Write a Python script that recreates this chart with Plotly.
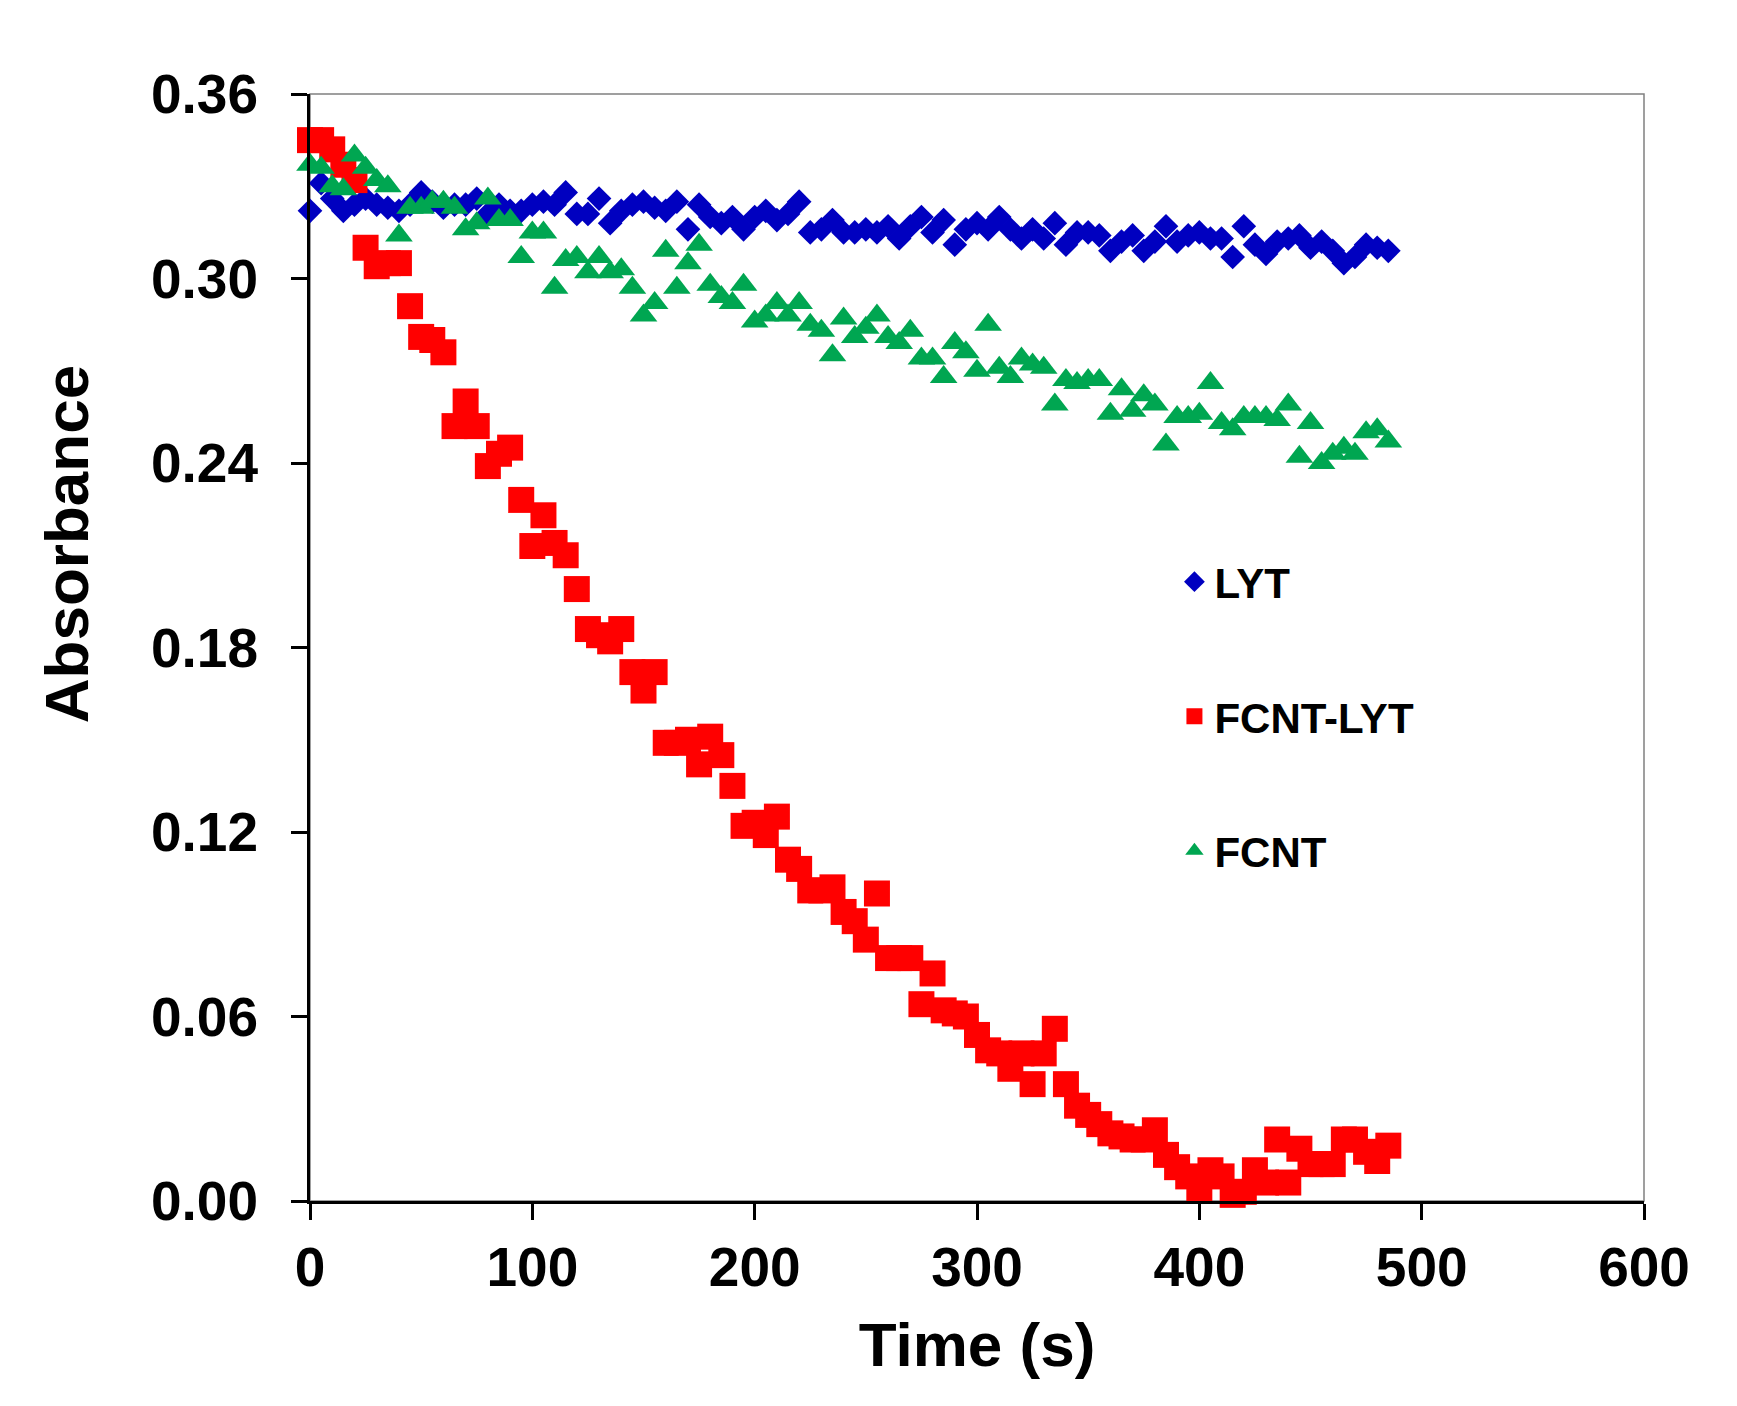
import plotly.graph_objects as go

# time points (s)
time_s = [0, 5, 10, 15, 20, 25, 30, 35, 40, 45, 50, 55, 60, 65, 70, 75, 80, 85, 90, 95,
          100, 105, 110, 115, 120, 125, 130, 135, 140, 145, 150, 155, 160, 165, 170, 175, 180, 185, 190, 195,
          200, 205, 210, 215, 220, 225, 230, 235, 240, 245, 250, 255, 260, 265, 270, 275, 280, 285, 290, 295,
          300, 305, 310, 315, 320, 325, 330, 335, 340, 345, 350, 355, 360, 365, 370, 375, 380, 385, 390, 395,
          400, 405, 410, 415, 420, 425, 430, 435, 440, 445, 450, 455, 460, 465, 470, 475, 480, 485]

lyt = [0.322, 0.331, 0.326, 0.322, 0.324, 0.326, 0.324, 0.323, 0.322, 0.324,
       0.328, 0.325, 0.323, 0.324, 0.324, 0.326, 0.321, 0.324, 0.322, 0.322,
       0.324, 0.325, 0.324, 0.328, 0.321, 0.321, 0.326, 0.318, 0.322, 0.324,
       0.325, 0.323, 0.322, 0.325, 0.316, 0.324, 0.320, 0.318, 0.320, 0.316,
       0.320, 0.322, 0.319, 0.321, 0.325, 0.315, 0.316, 0.319, 0.315, 0.315,
       0.316, 0.315, 0.317, 0.313, 0.317, 0.320, 0.315, 0.319, 0.311, 0.316,
       0.318, 0.316, 0.320, 0.316, 0.313, 0.316, 0.313, 0.318, 0.311, 0.315,
       0.315, 0.314, 0.309, 0.312, 0.314, 0.309, 0.312, 0.317, 0.312, 0.314,
       0.315, 0.313, 0.313, 0.307, 0.317, 0.311, 0.308, 0.312, 0.313, 0.314,
       0.310, 0.312, 0.309, 0.305, 0.307, 0.311, 0.310, 0.309]

fcnt_lyt = [0.345, 0.345, 0.342, 0.337, 0.332, 0.310, 0.304, 0.305, 0.305, 0.291,
            0.281, 0.280, 0.276, 0.252, 0.260, 0.252, 0.239, 0.243, 0.245, 0.228,
            0.213, 0.223, 0.214, 0.210, 0.199, 0.186, 0.184, 0.182, 0.186, 0.172,
            0.166, 0.172, 0.149, 0.149, 0.150, 0.142, 0.151, 0.145, 0.135, 0.122,
            0.123, 0.119, 0.125, 0.111, 0.108, 0.101, 0.101, 0.102, 0.094, 0.091,
            0.085, 0.100, 0.079, 0.079, 0.079, 0.064, 0.074, 0.062, 0.061, 0.060,
            0.054, 0.049, 0.048, 0.043, 0.048, 0.038, 0.048, 0.056, 0.038, 0.031,
            0.028, 0.025, 0.022, 0.021, 0.020, 0.020, 0.023, 0.015, 0.011, 0.008,
            0.004, 0.010, 0.008, 0.002, 0.003, 0.010, 0.006, 0.020, 0.006, 0.017,
            0.012, 0.012, 0.012, 0.020, 0.020, 0.016, 0.013, 0.018]

fcnt = [0.337, 0.336, 0.330, 0.329, 0.340, 0.336, 0.332, 0.330, 0.314, 0.323,
        0.323, 0.325, 0.325, 0.323, 0.316, 0.318, 0.326, 0.319, 0.319, 0.307,
        0.315, 0.315, 0.297, 0.306, 0.307, 0.302, 0.307, 0.302, 0.303, 0.297,
        0.288, 0.292, 0.309, 0.297, 0.305, 0.311, 0.298, 0.294, 0.292, 0.298,
        0.286, 0.288, 0.292, 0.288, 0.292, 0.285, 0.283, 0.275, 0.287, 0.281,
        0.284, 0.288, 0.281, 0.279, 0.283, 0.274, 0.274, 0.268, 0.279, 0.276,
        0.270, 0.285, 0.271, 0.268, 0.274, 0.272, 0.271, 0.259, 0.267, 0.266,
        0.267, 0.267, 0.256, 0.264, 0.257, 0.262, 0.259, 0.246, 0.255, 0.255,
        0.256, 0.266, 0.253, 0.251, 0.255, 0.255, 0.255, 0.254, 0.259, 0.242,
        0.253, 0.240, 0.243, 0.245, 0.243, 0.250, 0.251, 0.247]

x_ticks = [0, 100, 200, 300, 400, 500, 600]
y_ticks = [0.00, 0.06, 0.12, 0.18, 0.24, 0.30, 0.36]

FONT = "Liberation Sans, Arial, sans-serif"

fig = go.Figure()

fig.add_trace(go.Scatter(x=time_s, y=lyt, mode='markers', name='LYT', legendgroup='a',
                         marker=dict(symbol='diamond', size=19, color='#0000C0', line=dict(width=0)),
                         cliponaxis=False))
fig.add_trace(go.Scatter(x=time_s, y=fcnt_lyt, mode='markers', name='FCNT-LYT', legendgroup='b',
                         marker=dict(symbol='square', size=26, color='#FF0000', line=dict(width=0)),
                         cliponaxis=False))
fig.add_trace(go.Scatter(x=time_s, y=fcnt, mode='markers', name='FCNT', legendgroup='c',
                         marker=dict(symbol='triangle-up', size=24, color='#00A651', line=dict(width=0)),
                         cliponaxis=False))

fig.update_xaxes(range=[0, 600], tickvals=x_ticks, ticks='outside', ticklen=16, tickwidth=3,
                 tickcolor='black', showline=True, linecolor='black', linewidth=3,
                 showgrid=False, zeroline=False, ticklabelstandoff=0,
                 tickfont=dict(family=FONT, size=55, color='black', weight='bold'),
                 title=dict(text='Time (s)', standoff=26,
                            font=dict(family=FONT, size=62, color='black', weight='bold')))
fig.update_yaxes(range=[0, 0.36], tickvals=y_ticks, tickformat='.2f', ticks='outside', ticklen=16,
                 tickwidth=3, tickcolor='black', showline=True, linecolor='black', linewidth=3,
                 showgrid=False, zeroline=False, ticklabelstandoff=22,
                 tickfont=dict(family=FONT, size=55, color='black', weight='bold'))

# axis title placed like the original (a bit above the middle)
fig.add_annotation(text='Absorbance', textangle=-90, xref='paper', yref='paper',
                   x=-0.182, y=0.5935, xanchor='center', yanchor='middle', showarrow=False,
                   font=dict(family=FONT, size=62, color='black', weight='bold'))

# thin frame round the plot area
fig.add_shape(type='rect', xref='paper', yref='paper', x0=0, y0=0, x1=1, y1=1,
              line=dict(color='#808080', width=1.5), layer='below')

fig.update_layout(width=1737, height=1406, plot_bgcolor='white', paper_bgcolor='white',
                  margin=dict(l=302, r=101, t=86, b=213),
                  legend=dict(x=0.648, y=0.59, xanchor='left', yanchor='top',
                              bgcolor='rgba(0,0,0,0)', tracegroupgap=77,
                              font=dict(family=FONT, size=42, color='black', weight='bold')))

fig.write_html("out.html")
